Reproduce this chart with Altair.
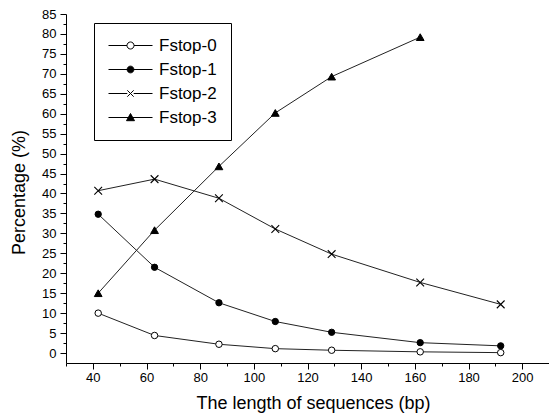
import altair as alt
import pandas as pd

# ---- data ----
x_len = [42, 63, 87, 108, 129, 162, 192]
fstop0 = [10.0, 4.4, 2.2, 1.1, 0.7, 0.3, 0.1]
fstop1 = [34.8, 21.5, 12.6, 7.9, 5.2, 2.6, 1.8]
fstop2 = [40.7, 43.6, 38.8, 31.1, 24.8, 17.7, 12.2]
fstop3 = [15.0, 30.8, 46.8, 60.2, 69.3, 79.2]
series_names = ["Fstop-0", "Fstop-1", "Fstop-2", "Fstop-3"]

x_ticks = [30, 40, 50, 60, 70, 80, 90, 100, 110, 120, 130, 140, 150, 160, 170, 180, 190, 200, 210]
y_ticks = [0, 2.5, 5, 7.5, 10, 12.5, 15, 17.5, 20, 22.5, 25, 27.5, 30, 32.5, 35, 37.5, 40,
           42.5, 45, 47.5, 50, 52.5, 55, 57.5, 60, 62.5, 65, 67.5, 70, 72.5, 75, 77.5, 80, 82.5, 85]

rows = []
for name, vals in zip(series_names, [fstop0, fstop1, fstop2, fstop3]):
    for xv, yv in zip(x_len, vals):
        rows.append({"series": name, "length": xv, "pct": yv})
df = pd.DataFrame(rows)

FONT = "Liberation Sans"

x_enc = alt.X(
    "length:Q",
    scale=alt.Scale(domain=[30, 210], nice=False, zero=False),
    axis=alt.Axis(
        title="The length of sequences (bp)",
        values=x_ticks,
        labelExpr="(datum.value % 20 === 0 && datum.value >= 40 && datum.value <= 200) ? datum.label : ''",
        tickSize={"condition": {"test": "datum.value % 20 === 0", "value": 6}, "value": 3},
        labelPadding=2,
        titleX=247,
        titleY=40,
        titleBaseline="middle",
        titleAlign="center",
    ),
)
y_enc = alt.Y(
    "pct:Q",
    scale=alt.Scale(domain=[-2.5, 85], nice=False, zero=False),
    axis=alt.Axis(
        title="Percentage (%)",
        values=y_ticks,
        labelExpr="(datum.value % 5 === 0) ? datum.label : ''",
        tickSize={"condition": {"test": "datum.value % 5 === 0", "value": 6}, "value": 3},
        labelPadding=4,
        titleX=-47,
        titleY=178,
        titleAngle=270,
        titleBaseline="middle",
        titleAlign="center",
    ),
)

base = alt.Chart(df)

lines = base.mark_line(color="#222222", strokeWidth=1).encode(
    x=x_enc, y=y_enc, detail="series:N", order="length:Q"
)

p0 = base.transform_filter(alt.datum.series == "Fstop-0").mark_point(
    shape="circle", filled=True, fill="white", stroke="black", strokeWidth=1, size=42, opacity=1
).encode(x=x_enc, y=y_enc)
p1 = base.transform_filter(alt.datum.series == "Fstop-1").mark_point(
    shape="circle", filled=True, fill="black", stroke="black", strokeWidth=1, size=40, opacity=1
).encode(x=x_enc, y=y_enc)
p2 = base.transform_filter(alt.datum.series == "Fstop-2").mark_point(
    shape="M-1,-1L1,1M-1,1L1,-1", filled=False, stroke="black", strokeWidth=1.1, size=60, opacity=1
).encode(x=x_enc, y=y_enc)
p3 = base.transform_filter(alt.datum.series == "Fstop-3").mark_point(
    shape="triangle-up", filled=True, fill="black", stroke="black", strokeWidth=1, size=60, opacity=1
).encode(x=x_enc, y=y_enc)

legend_paths = [
    "M-2.75,0L-0.44,0M0.44,0L2.75,0M-0.44,0A0.44,0.44 0 1,0 0.44,0A0.44,0.44 0 1,0 -0.44,0Z",
    "M-2.75,0L2.75,0M-0.42,0A0.42,0.42 0 1,0 0.42,0A0.42,0.42 0 1,0 -0.42,0Z",
    "M-2.75,0L-0.4,0M0.4,0L2.75,0M-0.4,-0.4L0.4,0.4M-0.4,0.4L0.4,-0.4",
    "M-2.75,0L2.75,0M0,-0.5L0.5,0.4L-0.5,0.4Z",
]
legend_fills = ["white", "black", "transparent", "black"]
legend_strokes = ["black", "black", "black", "black"]

leg = base.transform_filter("false").mark_point(
    strokeWidth=1, size=256, opacity=1
).encode(
    x=x_enc,
    y=y_enc,
    shape=alt.Shape(
        "series:N",
        scale=alt.Scale(domain=series_names, range=legend_paths),
        legend=alt.Legend(title=None),
    ),
    fill=alt.Fill(
        "series:N",
        scale=alt.Scale(domain=series_names, range=legend_fills),
        legend=alt.Legend(title=None),
    ),
    stroke=alt.Stroke(
        "series:N",
        scale=alt.Scale(domain=series_names, range=legend_strokes),
        legend=alt.Legend(title=None),
    ),
)

chart = alt.layer(lines, p0, p1, p2, p3, leg).properties(
    width=483,
    height=349,
    padding={"left": 66, "top": 14, "right": 0, "bottom": 54},
    autosize=alt.AutoSizeParams(type="none"),
    background="white",
).configure_view(
    stroke=None
).configure_axis(
    grid=False,
    domainColor="black",
    domainWidth=1,
    tickColor="black",
    tickWidth=1,
    labelFont=FONT,
    labelFontSize=13,
    labelColor="black",
    labelOverlap=False,
    labelFlush=False,
    labelBound=False,
    titleFont=FONT,
    titleFontSize=18,
    titleFontWeight="normal",
    titleColor="black",
).configure_legend(
    orient="none",
    legendX=28,
    legendY=9,
    padding=14,
    strokeColor="black",
    fillColor="white",
    labelFont=FONT,
    labelFontSize=17,
    labelColor="black",
    labelOffset=20,
    symbolOffset=14,
    symbolSize=256,
    symbolStrokeWidth=1,
    symbolStrokeColor="black",
    rowPadding=6,
)

chart.save("out.html", embed_options={"renderer": "svg", "actions": False})
